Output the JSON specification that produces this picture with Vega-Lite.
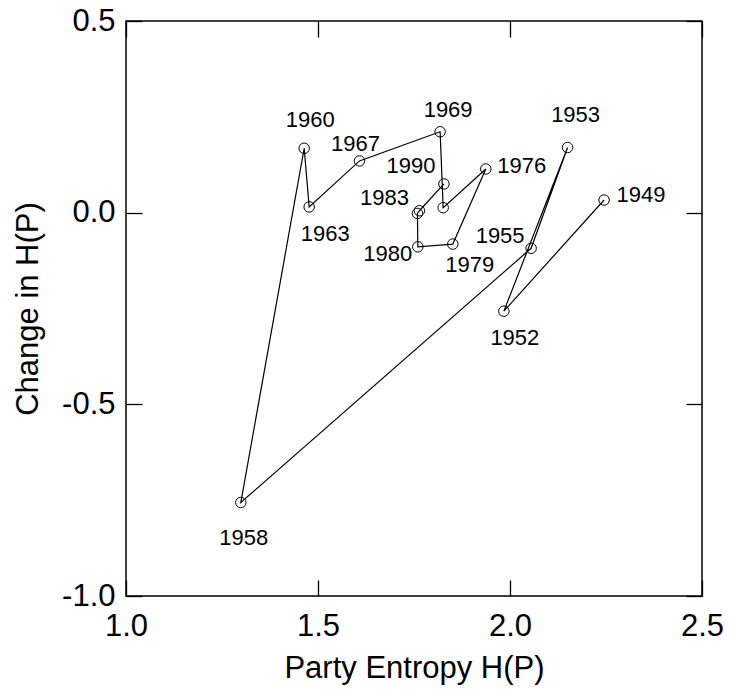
{
  "$schema": "https://vega.github.io/schema/vega-lite/v6.json",
  "width": 576,
  "height": 575,
  "autosize": {"type": "none"},
  "padding": {"left": 126, "top": 21, "right": 27, "bottom": 96},
  "background": "white",
  "config": {
    "view": {"stroke": "black", "strokeWidth": 1.5},
    "font": "Liberation Sans",
    "axis": {
      "grid": false,
      "domain": false,
      "tickColor": "black",
      "tickWidth": 1.3,
      "tickSize": -16,
      "labelColor": "black",
      "labelFont": "Liberation Sans",
      "labelFontSize": 31,
      "titleColor": "black",
      "titleFont": "Liberation Sans",
      "titleFontSize": 31,
      "titleFontWeight": "normal"
    }
  },
  "data": {
    "values": [
      {"year": "1949", "entropy": 2.245, "change": 0.033},
      {"year": "1952", "entropy": 1.984, "change": -0.257},
      {"year": "1953", "entropy": 2.150, "change": 0.170},
      {"year": "1955", "entropy": 2.055, "change": -0.093},
      {"year": "1958", "entropy": 1.299, "change": -0.756},
      {"year": "1960", "entropy": 1.464, "change": 0.168},
      {"year": "1963", "entropy": 1.477, "change": 0.015},
      {"year": "1967", "entropy": 1.608, "change": 0.135},
      {"year": "1969", "entropy": 1.818, "change": 0.211},
      {"year": "1972", "entropy": 1.826, "change": 0.013},
      {"year": "1976", "entropy": 1.937, "change": 0.114},
      {"year": "1979", "entropy": 1.851, "change": -0.082},
      {"year": "1980", "entropy": 1.760, "change": -0.089},
      {"year": "1983", "entropy": 1.759, "change": -0.002},
      {"year": "1987", "entropy": 1.764, "change": 0.005},
      {"year": "1990", "entropy": 1.828, "change": 0.075}
    ]
  },
  "resolve": {"axis": {"x": "independent", "y": "independent"}},
  "layer": [
    {
      "mark": {"type": "line", "color": "black", "strokeWidth": 1.2},
      "encoding": {
        "x": {"field": "entropy", "type": "quantitative", "scale": {"domain": [1, 2.5], "nice": false, "zero": false},
              "axis": {"orient": "bottom", "values": [1, 1.5, 2, 2.5], "format": ".1f", "title": "Party Entropy H(P)", "labelPadding": 31, "titlePadding": 12, "labelFlush": false}},
        "y": {"field": "change", "type": "quantitative", "scale": {"domain": [-1, 0.5], "nice": false, "zero": false},
              "axis": {"orient": "left", "values": [-1, -0.5, 0, 0.5], "labelExpr": "datum.value < 0 ? '-' + format(-datum.value, '.1f') : format(datum.value, '.1f')", "title": "Change in H(P)", "labelPadding": 27, "titlePadding": 17, "labelFlush": false}},
        "order": {"field": "year", "type": "ordinal"}
      }
    },
    {
      "mark": {"type": "point", "shape": "circle", "filled": false, "color": "black", "size": 110, "strokeWidth": 1, "opacity": 1},
      "encoding": {
        "x": {"field": "entropy", "type": "quantitative",
              "axis": {"orient": "top", "values": [1, 1.5, 2, 2.5], "labels": false, "title": null}},
        "y": {"field": "change", "type": "quantitative",
              "axis": {"orient": "right", "values": [-1, -0.5, 0, 0.5], "labels": false, "title": null}}
      }
    },
    {"transform": [{"filter": "datum.year == '1949'"}], "mark": {"type": "text", "fontSize": 22, "color": "black", "dx": 37, "dy": -5},
     "encoding": {"x": {"field": "entropy", "type": "quantitative", "axis": null}, "y": {"field": "change", "type": "quantitative", "axis": null}, "text": {"field": "year", "type": "nominal"}}},
    {"transform": [{"filter": "datum.year == '1952'"}], "mark": {"type": "text", "fontSize": 22, "color": "black", "dx": 11, "dy": 27},
     "encoding": {"x": {"field": "entropy", "type": "quantitative", "axis": null}, "y": {"field": "change", "type": "quantitative", "axis": null}, "text": {"field": "year", "type": "nominal"}}},
    {"transform": [{"filter": "datum.year == '1953'"}], "mark": {"type": "text", "fontSize": 22, "color": "black", "dx": 8, "dy": -33},
     "encoding": {"x": {"field": "entropy", "type": "quantitative", "axis": null}, "y": {"field": "change", "type": "quantitative", "axis": null}, "text": {"field": "year", "type": "nominal"}}},
    {"transform": [{"filter": "datum.year == '1955'"}], "mark": {"type": "text", "fontSize": 22, "color": "black", "dx": -31, "dy": -12},
     "encoding": {"x": {"field": "entropy", "type": "quantitative", "axis": null}, "y": {"field": "change", "type": "quantitative", "axis": null}, "text": {"field": "year", "type": "nominal"}}},
    {"transform": [{"filter": "datum.year == '1958'"}], "mark": {"type": "text", "fontSize": 22, "color": "black", "dx": 3, "dy": 36},
     "encoding": {"x": {"field": "entropy", "type": "quantitative", "axis": null}, "y": {"field": "change", "type": "quantitative", "axis": null}, "text": {"field": "year", "type": "nominal"}}},
    {"transform": [{"filter": "datum.year == '1960'"}], "mark": {"type": "text", "fontSize": 22, "color": "black", "dx": 6, "dy": -28},
     "encoding": {"x": {"field": "entropy", "type": "quantitative", "axis": null}, "y": {"field": "change", "type": "quantitative", "axis": null}, "text": {"field": "year", "type": "nominal"}}},
    {"transform": [{"filter": "datum.year == '1963'"}], "mark": {"type": "text", "fontSize": 22, "color": "black", "dx": 16, "dy": 27},
     "encoding": {"x": {"field": "entropy", "type": "quantitative", "axis": null}, "y": {"field": "change", "type": "quantitative", "axis": null}, "text": {"field": "year", "type": "nominal"}}},
    {"transform": [{"filter": "datum.year == '1967'"}], "mark": {"type": "text", "fontSize": 22, "color": "black", "dx": -4, "dy": -17},
     "encoding": {"x": {"field": "entropy", "type": "quantitative", "axis": null}, "y": {"field": "change", "type": "quantitative", "axis": null}, "text": {"field": "year", "type": "nominal"}}},
    {"transform": [{"filter": "datum.year == '1969'"}], "mark": {"type": "text", "fontSize": 22, "color": "black", "dx": 8, "dy": -22},
     "encoding": {"x": {"field": "entropy", "type": "quantitative", "axis": null}, "y": {"field": "change", "type": "quantitative", "axis": null}, "text": {"field": "year", "type": "nominal"}}},
    {"transform": [{"filter": "datum.year == '1976'"}], "mark": {"type": "text", "fontSize": 22, "color": "black", "dx": 36, "dy": -3},
     "encoding": {"x": {"field": "entropy", "type": "quantitative", "axis": null}, "y": {"field": "change", "type": "quantitative", "axis": null}, "text": {"field": "year", "type": "nominal"}}},
    {"transform": [{"filter": "datum.year == '1979'"}], "mark": {"type": "text", "fontSize": 22, "color": "black", "dx": 17, "dy": 21},
     "encoding": {"x": {"field": "entropy", "type": "quantitative", "axis": null}, "y": {"field": "change", "type": "quantitative", "axis": null}, "text": {"field": "year", "type": "nominal"}}},
    {"transform": [{"filter": "datum.year == '1980'"}], "mark": {"type": "text", "fontSize": 22, "color": "black", "dx": -30, "dy": 7},
     "encoding": {"x": {"field": "entropy", "type": "quantitative", "axis": null}, "y": {"field": "change", "type": "quantitative", "axis": null}, "text": {"field": "year", "type": "nominal"}}},
    {"transform": [{"filter": "datum.year == '1983'"}], "mark": {"type": "text", "fontSize": 22, "color": "black", "dx": -33, "dy": -15},
     "encoding": {"x": {"field": "entropy", "type": "quantitative", "axis": null}, "y": {"field": "change", "type": "quantitative", "axis": null}, "text": {"field": "year", "type": "nominal"}}},
    {"transform": [{"filter": "datum.year == '1990'"}], "mark": {"type": "text", "fontSize": 22, "color": "black", "dx": -33, "dy": -18},
     "encoding": {"x": {"field": "entropy", "type": "quantitative", "axis": null}, "y": {"field": "change", "type": "quantitative", "axis": null}, "text": {"field": "year", "type": "nominal"}}}
  ]
}
